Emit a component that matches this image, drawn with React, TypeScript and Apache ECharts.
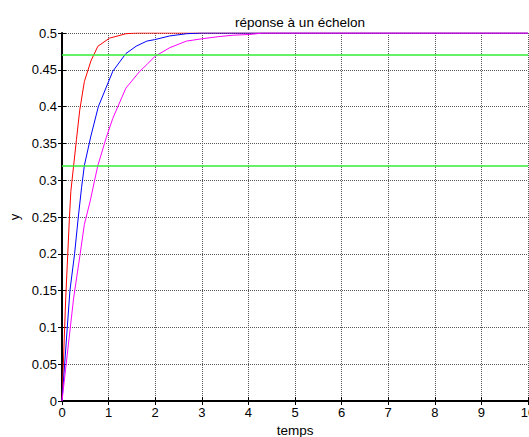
import React, { useEffect, useRef } from "react";
import * as echarts from "echarts";

const titleText = "réponse à un échelon";
const xName = "temps";
const yName = "y";

// red response: [time, y]
const redData: [number, number][] = [
  [0, 0], [0.08, 0.14], [0.16, 0.25], [0.19, 0.285], [0.31, 0.355], [0.38, 0.395],
  [0.48, 0.434], [0.62, 0.462], [0.77, 0.482], [1.02, 0.493], [1.37, 0.499],
  [1.6, 0.5], [10, 0.5],
];
// blue response
const blueData: [number, number][] = [
  [0, 0], [0.17, 0.15], [0.27, 0.2], [0.35, 0.25], [0.42, 0.29], [0.48, 0.32],
  [0.62, 0.36], [0.78, 0.4], [1.09, 0.448], [1.37, 0.472], [1.59, 0.482],
  [1.82, 0.489], [1.99, 0.491], [2.31, 0.496], [2.67, 0.499], [3.0, 0.5], [10, 0.5],
];
// magenta response
const magentaData: [number, number][] = [
  [0, 0], [0.25, 0.14], [0.39, 0.2], [0.48, 0.24], [0.61, 0.273], [0.7, 0.3],
  [0.77, 0.32], [0.95, 0.358], [1.09, 0.384], [1.37, 0.425],
  [1.67, 0.448], [1.82, 0.457], [1.99, 0.468], [2.31, 0.48], [2.67, 0.489],
  [2.99, 0.492], [3.35, 0.495], [3.67, 0.497], [4.03, 0.498], [4.31, 0.5], [10, 0.5],
];
// green reference levels
const refLevels = [0.47, 0.32];

const FONT = "Liberation Sans, Arial, sans-serif";

export default function App() {
  const ref = useRef<HTMLDivElement>(null);
  useEffect(() => {
    if (!ref.current) return;
    const chart = echarts.init(ref.current, undefined, { renderer: "svg" });
    const gridLine = { show: true, lineStyle: { color: "#555", type: [1, 1] as any, width: 1 } };
    const lineSeries = (name: string, data: [number, number][], color: string) => ({
      name,
      type: "line",
      data,
      showSymbol: false,
      symbol: "none",
      lineStyle: { color, width: 1 },
      itemStyle: { color },
      z: 3,
    });
    chart.setOption({
      animation: false,
      title: {
        text: titleText,
        left: 295,
        textAlign: "center",
        top: 10,
        textStyle: { fontFamily: FONT, fontSize: 13.5, fontWeight: "normal", color: "#000" },
      },
      grid: { left: 62, top: 33, right: 1, bottom: 36, show: false, outerBoundsMode: "none", containLabel: false },
      xAxis: [
        {
          type: "value",
          min: 0,
          max: 10,
          interval: 1,
          name: xName,
          nameLocation: "middle",
          nameGap: 20,
          nameTextStyle: { fontFamily: FONT, fontSize: 13.5, color: "#000" },
          axisLine: { show: true, lineStyle: { color: "#000", width: 2 } },
          axisTick: { show: true, inside: true, length: 4, lineStyle: { color: "#000" } },
          axisLabel: { fontFamily: FONT, fontSize: 13, color: "#000", margin: 5, showMaxLabel: true },
          splitLine: gridLine,
        },
        {
          type: "value",
          position: "top",
          min: 0,
          max: 10,
          interval: 1,
          axisLine: { show: true, lineStyle: { color: "#000", width: 1 } },
          axisTick: { show: true, inside: true, length: 4, lineStyle: { color: "#000" } },
          axisLabel: { show: false },
          splitLine: { show: false },
        },
      ],
      yAxis: [
        {
          type: "value",
          min: 0,
          max: 0.5,
          interval: 0.05,
          name: yName,
          nameLocation: "middle",
          nameGap: 40,
          nameRotate: 90,
          nameTextStyle: { fontFamily: FONT, fontSize: 13, color: "#000" },
          axisLine: { show: true, lineStyle: { color: "#000", width: 2 } },
          axisTick: { show: true, inside: true, length: 4, lineStyle: { color: "#000" } },
          axisLabel: { fontFamily: FONT, fontSize: 13, color: "#000", margin: 5 },
          splitLine: gridLine,
        },
        {
          type: "value",
          position: "right",
          min: 0,
          max: 0.5,
          interval: 0.05,
          axisLine: { show: true, lineStyle: { color: "#000", width: 1 } },
          axisTick: { show: true, inside: true, length: 4, lineStyle: { color: "#000" } },
          axisLabel: { show: false },
          splitLine: { show: false },
        },
      ],
      series: [
        {
          name: "ref",
          type: "line",
          data: [],
          markLine: {
            silent: true,
            symbol: ["none", "none"],
            label: { show: false },
            lineStyle: { color: "#33ee33", width: 1.5, type: "solid" },
            data: refLevels.map((v) => ({ yAxis: v })),
          },
          z: 2,
        },
        lineSeries("red", redData, "#ff0000"),
        lineSeries("blue", blueData, "#0000ff"),
        lineSeries("magenta", magentaData, "#ff00ff"),
      ],
    });
    return () => chart.dispose();
  }, []);
  return (
    <div
      ref={ref}
      style={{ position: "fixed", left: 0, top: 0, width: 529, height: 437, background: "#fff" }}
    />
  );
}
